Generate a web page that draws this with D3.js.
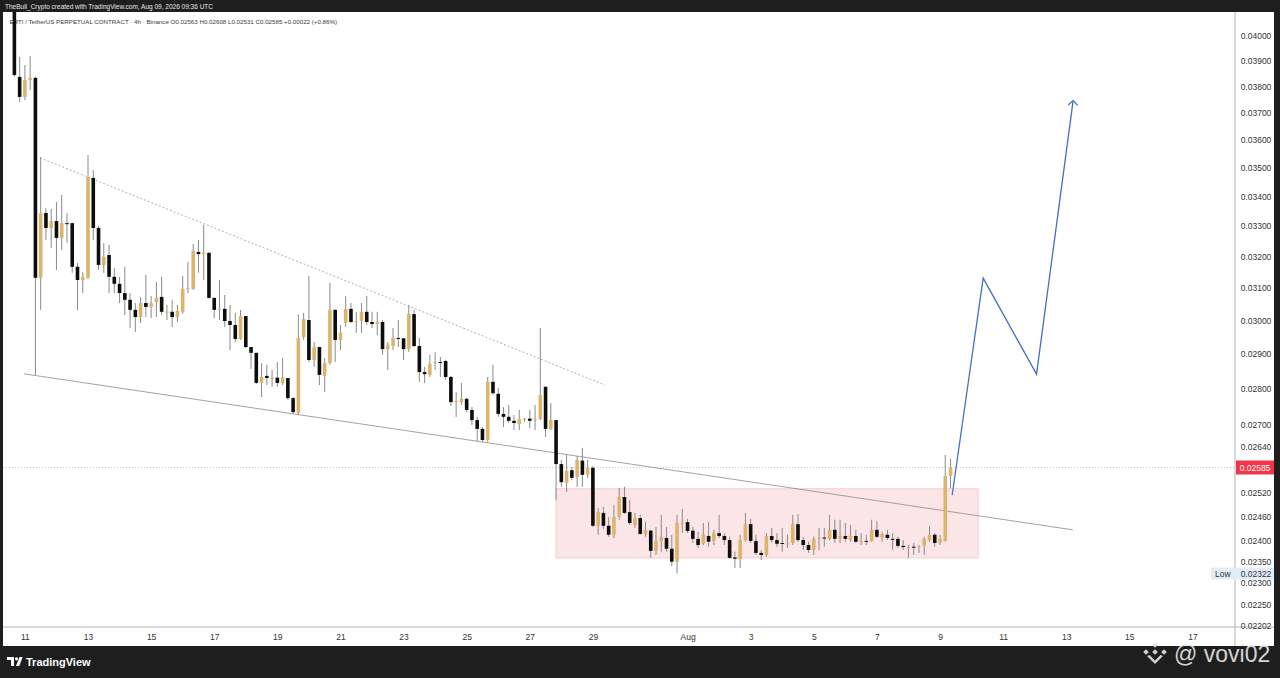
<!DOCTYPE html>
<html lang="en">
<head>
<meta charset="utf-8">
<title>TradingView 4h chart</title>
<script src="https://d3js.org/d3.v7.min.js"></script>
<style>
  body { margin: 0; background: #1e1e1e; overflow: hidden; }
  text { font-family: "Liberation Sans", Arial, sans-serif; }
</style>
</head>
<body>
<script>
var width = 1280, height = 678;

// 4h candles, the first one opens Jul 10 16:00 UTC
var firstCandle = Date.UTC(2026, 6, 10, 16);
var candleOpen = [
  .04100, .03838, .03761, .03826, .03834, .03132, .03344, .03294, .03317, .03261,
  .03310, .03310, .03167, .03125, .03132, .03465, .03294, .03173, .03205, .03135,
  .03113, .03084, .03063, .03032, .03010, .03053, .03041, .03056, .03072, .03025,
  .03026, .03010, .03026, .03097, .03097, .03215, .03208, .03212, .03069, .03034,
  .03035, .02998, .02986, .02944, .03013, .02920, .02903, .02816, .02836, .02827,
  .02831, .02816, .02830, .02773, .02732, .02950, .03001, .02882, .02920, .02836,
  .02873, .03032, .02941, .02992, .03035, .02995, .02998, .03026, .02995, .02989,
  .02995, .02914, .02923, .02947, .02946, .02914, .03019, .02923, .02847, .02839,
  .02874, .02876, .02879, .02833, .02763, .02762, .02771, .02740, .02712, .02688,
  .02658, .02819, .02785, .02729, .02721, .02710, .02701, .02715, .02716, .02713,
  .02715, .02805, .02688, .02712, .02594, .02545, .02578, .02560, .02603, .02566,
  .02584, .02437, .02469, .02437, .02415, .02459, .02509, .02471, .02439, .02456,
  .02417, .02425, .02376, .02400, .02407, .02381, .02350, .02443, .02446, .02425,
  .02405, .02393, .02412, .02400, .02419, .02412, .02402, .02360, .02357, .02402,
  .02441, .02400, .02371, .02366, .02412, .02402, .02395, .02393, .02395, .02441,
  .02402, .02390, .02378, .02406, .02408, .02405, .02427, .02405, .02412, .02402,
  .02412, .02399, .02400, .02400, .02427, .02408, .02415, .02405, .02405, .02388,
  .02385, .02386, .02386, .02388, .02402, .02415, .02396, .02400, .02563
];
var candleHigh = [
  .04120, .03916, .03884, .03920, .03838, .03539, .03361, .03358, .03382, .03406,
  .03344, .03311, .03179, .03150, .03546, .03493, .03301, .03244, .03238, .03163,
  .03135, .03167, .03084, .03053, .03072, .03141, .03075, .03119, .03135, .03047,
  .03063, .03047, .03138, .03182, .03241, .03254, .03304, .03215, .03069, .03125,
  .03078, .03047, .03023, .03032, .03013, .02920, .02903, .02873, .02868, .02853,
  .02876, .02888, .02830, .02776, .03019, .03023, .03138, .02935, .02921, .02888,
  .03116, .03033, .02986, .03075, .03053, .03026, .03053, .03075, .03026, .03026,
  .03001, .02935, .02977, .03001, .02947, .03047, .03032, .02947, .02862, .02897,
  .02905, .02891, .02882, .02836, .02790, .02816, .02774, .02748, .02721, .02693,
  .02833, .02868, .02802, .02748, .02754, .02726, .02740, .02718, .02740, .02754,
  .02977, .02806, .02759, .02713, .02605, .02618, .02586, .02615, .02637, .02605,
  .02589, .02481, .02484, .02459, .02489, .02532, .02535, .02501, .02469, .02464,
  .02447, .02427, .02434, .02464, .02434, .02415, .02464, .02479, .02454, .02434,
  .02422, .02444, .02447, .02427, .02464, .02419, .02410, .02374, .02415, .02469,
  .02454, .02415, .02378, .02419, .02432, .02419, .02432, .02415, .02464, .02466,
  .02410, .02398, .02410, .02432, .02432, .02464, .02452, .02452, .02444, .02439,
  .02427, .02419, .02415, .02452, .02449, .02422, .02427, .02419, .02410, .02402,
  .02390, .02395, .02390, .02410, .02437, .02419, .02415, .02618, .02608
];
var candleLow = [
  .03838, .03742, .03749, .03787, .02839, .03032, .03254, .03228, .03157, .03221,
  .03245, .03148, .03032, .03084, .03128, .03254, .03157, .03148, .03084, .03084,
  .03053, .03016, .02977, .02965, .02992, .03010, .03007, .03010, .03016, .03001,
  .02980, .02995, .03020, .03084, .03094, .03148, .03125, .03066, .03007, .03001,
  .02980, .02911, .02935, .02941, .02917, .02856, .02813, .02776, .02810, .02805,
  .02805, .02810, .02768, .02729, .02726, .02941, .02876, .02862, .02810, .02790,
  .02868, .02876, .02911, .02980, .02992, .02962, .02962, .02986, .02977, .02956,
  .02897, .02853, .02911, .02920, .02882, .02905, .02920, .02819, .02816, .02833,
  .02853, .02833, .02825, .02751, .02721, .02754, .02734, .02699, .02655, .02653,
  .02653, .02782, .02721, .02693, .02704, .02685, .02685, .02707, .02690, .02685,
  .02712, .02666, .02685, .02501, .02535, .02522, .02553, .02535, .02535, .02558,
  .02434, .02415, .02429, .02410, .02407, .02452, .02466, .02439, .02432, .02415,
  .02410, .02359, .02366, .02374, .02374, .02340, .02322, .02419, .02419, .02395,
  .02383, .02390, .02386, .02390, .02407, .02390, .02357, .02335, .02335, .02398,
  .02395, .02366, .02354, .02361, .02395, .02386, .02374, .02383, .02390, .02398,
  .02378, .02371, .02366, .02378, .02386, .02402, .02395, .02395, .02398, .02398,
  .02395, .02390, .02390, .02398, .02407, .02398, .02402, .02378, .02383, .02378,
  .02359, .02366, .02371, .02366, .02398, .02386, .02390, .02398, .02531
];
var candleClose = [
  .03845, .03761, .03826, .03834, .03132, .03344, .03294, .03317, .03261, .03310,
  .03307, .03167, .03125, .03135, .03468, .03294, .03173, .03199, .03135, .03113,
  .03084, .03063, .03032, .03010, .03053, .03041, .03053, .03069, .03026, .03027,
  .03010, .03029, .03097, .03100, .03218, .03208, .03213, .03069, .03032, .03036,
  .02998, .02986, .02944, .03013, .02920, .02903, .02816, .02833, .02830, .02831,
  .02816, .02830, .02773, .02734, .02947, .03004, .02882, .02920, .02839, .02873,
  .03032, .02941, .02962, .03035, .02995, .02997, .03026, .02995, .02989, .02995,
  .02914, .02926, .02947, .02945, .02914, .03019, .02923, .02847, .02841, .02870,
  .02876, .02874, .02833, .02762, .02765, .02771, .02740, .02712, .02688, .02658,
  .02819, .02787, .02729, .02721, .02710, .02704, .02715, .02716, .02710, .02715,
  .02782, .02688, .02712, .02594, .02547, .02576, .02558, .02605, .02566, .02584,
  .02437, .02471, .02437, .02415, .02459, .02509, .02469, .02444, .02456, .02417,
  .02427, .02376, .02400, .02410, .02381, .02350, .02444, .02445, .02424, .02405,
  .02390, .02415, .02398, .02419, .02412, .02402, .02359, .02357, .02402, .02441,
  .02400, .02371, .02366, .02412, .02402, .02393, .02394, .02394, .02441, .02402,
  .02390, .02378, .02405, .02408, .02407, .02427, .02405, .02412, .02405, .02412,
  .02398, .02400, .02399, .02427, .02410, .02417, .02407, .02404, .02388, .02385,
  .02386, .02385, .02388, .02405, .02415, .02395, .02405, .02563, .02585
];

var lastPrice = 0.02585;
var lowPrice = 0.02322;
var priceTicks = [0.04, 0.039, 0.038, 0.037, 0.036, 0.035, 0.034, 0.033, 0.032, 0.031,
                  0.030, 0.029, 0.028, 0.027, 0.0264, 0.0252, 0.0246, 0.024, 0.0235,
                  0.023, 0.0225, 0.02202];
var dayTicks = [
  Date.UTC(2026, 6, 11), Date.UTC(2026, 6, 13), Date.UTC(2026, 6, 15), Date.UTC(2026, 6, 17),
  Date.UTC(2026, 6, 19), Date.UTC(2026, 6, 21), Date.UTC(2026, 6, 23), Date.UTC(2026, 6, 25),
  Date.UTC(2026, 6, 27), Date.UTC(2026, 6, 29), Date.UTC(2026, 7, 1), Date.UTC(2026, 7, 3),
  Date.UTC(2026, 7, 5), Date.UTC(2026, 7, 7), Date.UTC(2026, 7, 9), Date.UTC(2026, 7, 11),
  Date.UTC(2026, 7, 13), Date.UTC(2026, 7, 15), Date.UTC(2026, 7, 17)
];
var dayLabels = ["11", "13", "15", "17", "19", "21", "23", "25", "27", "29",
                 "Aug", "3", "5", "7", "9", "11", "13", "15", "17"];

// drawings on the chart: [time, price]
var upperTrend = [[Date.UTC(2026, 6, 11, 11, 30), 0.03536], [Date.UTC(2026, 6, 29, 9, 10), 0.02810]];
var lowerTrend = [[Date.UTC(2026, 6, 10, 23, 20), 0.02842], [Date.UTC(2026, 7, 13, 5, 0), 0.02427]];
var boxTimes = [Date.UTC(2026, 6, 27, 20), Date.UTC(2026, 7, 10, 5)];
var boxPrices = [0.02530, 0.02359];
var projection = [
  [Date.UTC(2026, 7, 9, 9, 15), 0.02514],
  [Date.UTC(2026, 7, 10, 8, 50), 0.03131],
  [Date.UTC(2026, 7, 12, 1, 25), 0.02841],
  [Date.UTC(2026, 7, 13, 5, 15), 0.03747]
];

var svg = d3.select("body").append("svg")
    .attr("width", width)
    .attr("height", height);

// frame
svg.append("rect").attr("width", width).attr("height", height).attr("fill", "#1e1e1e");
svg.append("rect").attr("x", 3).attr("y", 12).attr("width", 1271).attr("height", 634).attr("fill", "#ffffff");

var x = d3.scaleUtc()
    .domain([Date.UTC(2026, 6, 11), Date.UTC(2026, 7, 9)])
    .range([24.9, 940]);
var y = d3.scaleLog()
    .domain([0.02202, 0.04])
    .range([626, 36]);

svg.append("clipPath").attr("id", "plot")
  .append("rect").attr("x", 3).attr("y", 12).attr("width", 1232).attr("height", 615);

// header
svg.append("text")
    .attr("x", 5).attr("y", 8.5)
    .attr("font-size", "6.5px").attr("fill", "#e6e6e6")
    .text("TheBull_Crypto created with TradingView.com, Aug 09, 2026 09:36 UTC");
svg.append("text")
    .attr("x", 9.5).attr("y", 23.5)
    .attr("font-size", "6.2px").attr("fill", "#3a3a3a")
    .text("ERTI / TetherUS PERPETUAL CONTRACT · 4h · Binance  O0.02563  H0.02608  L0.02531  C0.02585  +0.00022 (+0.86%)");

var plot = svg.append("g").attr("clip-path", "url(#plot)");

// last price dotted line
plot.append("line")
    .attr("x1", 3).attr("x2", 1235)
    .attr("y1", y(lastPrice)).attr("y2", y(lastPrice))
    .attr("stroke", "#b8b8b8").attr("stroke-width", 0.8)
    .attr("stroke-dasharray", "1,2");

// support box
plot.append("rect")
    .attr("x", x(boxTimes[0]))
    .attr("y", y(boxPrices[0]))
    .attr("width", x(boxTimes[1]) - x(boxTimes[0]))
    .attr("height", y(boxPrices[1]) - y(boxPrices[0]))
    .attr("fill", "#fce5e7")
    .attr("stroke", "#f5cdd1").attr("stroke-width", 1);

// trend lines
var line = d3.line().x(function(d) { return x(d[0]); }).y(function(d) { return y(d[1]); });
plot.append("path").attr("d", line(upperTrend))
    .attr("fill", "none").attr("stroke", "#9a9a9a").attr("stroke-width", 0.8)
    .attr("stroke-dasharray", "2,2");
plot.append("path").attr("d", line(lowerTrend))
    .attr("fill", "none").attr("stroke", "#8c8c8c").attr("stroke-width", 0.8);

// candles
var candles = d3.range(candleOpen.length).map(function(i) {
  return {
    t: new Date(firstCandle + i * 4 * 3600 * 1000),
    o: candleOpen[i], h: candleHigh[i], l: candleLow[i], c: candleClose[i]
  };
});
var up = "#dcb46c", down = "#0d0d0d";

var cg = plot.selectAll("g.candle").data(candles).enter().append("g").attr("class", "candle");
cg.append("line")
    .attr("x1", function(d) { return x(d.t); })
    .attr("x2", function(d) { return x(d.t); })
    .attr("y1", function(d) { return y(d.h); })
    .attr("y2", function(d) { return y(d.l); })
    .attr("stroke", "#8a8a8a").attr("stroke-width", 1);
cg.append("rect")
    .attr("x", function(d) { return x(d.t) - 1.8; })
    .attr("width", 3.6)
    .attr("y", function(d) { return y(Math.max(d.o, d.c)); })
    .attr("height", function(d) { return Math.max(1, Math.abs(y(d.o) - y(d.c))); })
    .attr("fill", function(d) { return d.c >= d.o ? up : down; });

// projection path with arrow
plot.append("path").attr("d", line(projection))
    .attr("fill", "none").attr("stroke", "#4470c4").attr("stroke-width", 1.3)
    .attr("stroke-linejoin", "miter");
var tip = projection[projection.length - 1];
var tx = x(tip[0]), ty = y(tip[1]);
plot.append("path")
    .attr("d", "M" + (tx - 5) + "," + (ty + 4.5) + "L" + tx + "," + ty + "L" + (tx + 4.5) + "," + (ty + 4.8))
    .attr("fill", "none").attr("stroke", "#4470c4").attr("stroke-width", 1.3);

// axes
svg.append("line").attr("x1", 1235).attr("x2", 1235).attr("y1", 12).attr("y2", 646)
    .attr("stroke", "#b4b4b4").attr("stroke-width", 1);
svg.append("line").attr("x1", 3).attr("x2", 1274).attr("y1", 627).attr("y2", 627)
    .attr("stroke", "#b4b4b4").attr("stroke-width", 1);

var yAxis = svg.append("g")
    .attr("transform", "translate(1235,0)")
    .call(d3.axisRight(y).tickValues(priceTicks).tickSize(0).tickFormat(d3.format(".5f")));
yAxis.select(".domain").remove();
yAxis.selectAll("text")
    .attr("x", 21).attr("text-anchor", "middle")
    .attr("font-family", "Liberation Sans, Arial, sans-serif")
    .attr("font-size", "8.5px").attr("fill", "#333");

var xAxis = svg.append("g")
    .attr("transform", "translate(0,627)")
    .call(d3.axisBottom(x).tickValues(dayTicks.map(function(d) { return new Date(d); }))
      .tickSize(0).tickPadding(7)
      .tickFormat(function(d, i) { return dayLabels[i]; }));
xAxis.select(".domain").remove();
xAxis.selectAll("text")
    .attr("font-family", "Liberation Sans, Arial, sans-serif")
    .attr("font-size", "8.5px").attr("fill", "#333");

// price labels on the scale
svg.append("rect").attr("x", 1236).attr("y", y(lastPrice) - 7).attr("width", 38).attr("height", 14)
    .attr("fill", "#f23645");
svg.append("text").attr("x", 1255).attr("y", y(lastPrice) + 3)
    .attr("text-anchor", "middle").attr("font-size", "8.5px").attr("fill", "#ffffff")
    .text(d3.format(".5f")(lastPrice));

svg.append("rect").attr("x", 1211).attr("y", y(lowPrice) - 6).attr("width", 63).attr("height", 12)
    .attr("fill", "#e3edf8");
svg.append("text").attr("x", 1215).attr("y", y(lowPrice) + 3)
    .attr("font-size", "8.5px").attr("fill", "#333").text("Low");
svg.append("text").attr("x", 1256).attr("y", y(lowPrice) + 3)
    .attr("text-anchor", "middle").attr("font-size", "8.5px").attr("fill", "#333")
    .text(d3.format(".5f")(lowPrice));

// footer: TradingView logo
var logo = svg.append("g").attr("fill", "#ffffff");
logo.append("path").attr("d", "M7,657 h7 v9 h-3 v-6 h-4 z");
logo.append("circle").attr("cx", 16.5).attr("cy", 658.8).attr("r", 1.6);
logo.append("path").attr("d", "M16,666 l3.5,-9 h3.2 l-3.5,9 z");
svg.append("text").attr("x", 26).attr("y", 665.5)
    .attr("font-size", "11px").attr("font-weight", "bold").attr("fill", "#ffffff")
    .text("TradingView");

// watermark
var wm = svg.append("g").attr("fill", "#e4e4e4").attr("opacity", 0.9);
[[1146, 652], [1164, 652], [1155, 645], [1155, 652]].forEach(function(p) {
  wm.append("rect").attr("x", p[0] - 2).attr("y", p[1] - 2).attr("width", 4).attr("height", 4)
    .attr("transform", "rotate(45," + p[0] + "," + p[1] + ")");
});
wm.append("path").attr("d", "M1147,656 L1155,664 L1163,656 L1160.5,655 L1155,660.5 L1149.5,655 Z");
svg.append("text").attr("x", 1174).attr("y", 662)
    .attr("font-family", "Open Sans, sans-serif")
    .attr("font-size", "23px").attr("fill", "#e8e8e8").attr("opacity", 0.9)
    .text("@ vovi02");
</script>
</body>
</html>
